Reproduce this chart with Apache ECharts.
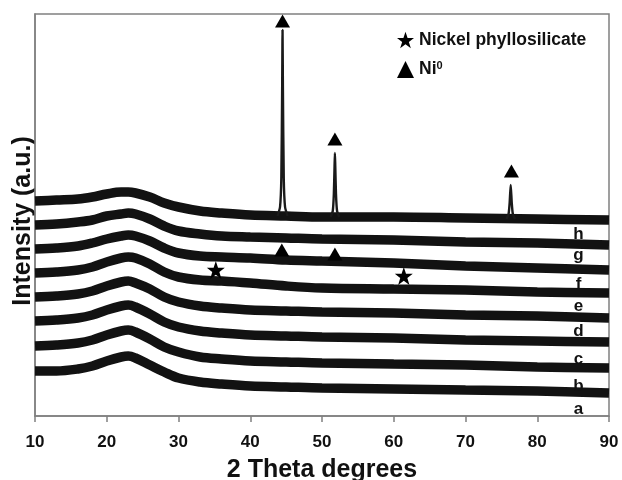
<!DOCTYPE html>
<html>
<head>
<meta charset="utf-8">
<script src="https://cdn.jsdelivr.net/npm/echarts@6/dist/echarts.min.js"></script>
<style>html,body{margin:0;padding:0;background:#fff;}#c{width:622px;height:480px;}</style>
</head>
<body>
<div id="c"></div>
<script>
// 2θ sample positions (degrees) for the baseline of every pattern
var angles = [10, 13, 16, 18, 20, 22, 23, 24, 26, 28, 30, 33, 36, 40, 45, 50, 60, 70, 80, 90];
// stacked intensities (a.u., offset)
var traceH = [215, 216, 217, 219, 222, 224, 224, 223, 219, 213, 209, 205, 203, 201, 200, 199, 199, 198, 197, 196];
var traceG = [191, 192, 194, 196, 200, 202, 203, 202, 197, 190, 185, 182, 180, 179, 178, 177, 176, 174, 173, 171];
var traceF = [167, 168, 170, 173, 177, 180, 181, 180, 175, 168, 163, 160, 159, 158, 156, 155, 153, 150, 148, 146];
var traceE = [143, 144, 146, 149, 154, 158, 159, 158, 152, 144, 139, 136, 135, 133, 130, 128, 127, 126, 124, 123];
var traceD = [119, 120, 122, 125, 130, 134, 135, 133, 127, 119, 114, 110, 108, 106, 105, 104, 103, 101, 100, 98];
var traceC = [95, 96, 98, 101, 106, 110, 111, 109, 102, 94, 89, 85, 83, 81, 80, 79, 78, 76, 75, 74];
var traceB = [70, 71, 73, 76, 81, 85, 86, 84, 77, 69, 64, 59, 57, 55, 54, 53, 52, 51, 49, 48];
var traceA = [45, 45, 47, 50, 55, 59, 60, 58, 51, 44, 38, 34, 32, 30, 29, 28, 27, 26, 25, 23];

// Ni0 reflections of pattern h: [angle, intensity]
var peak1 = [[43.8,200],[44.15,209],[44.33,238],[44.45,330],[44.5,386],[44.55,330],[44.67,238],[44.85,209],[45.2,200]];
var peak2 = [[51.2,199],[51.5,205],[51.65,222],[51.75,250],[51.8,263],[51.85,250],[51.95,222],[52.1,205],[52.4,199]];
var peak3 = [[75.7,197],[76.0,202],[76.15,213],[76.3,231],[76.45,213],[76.6,202],[76.9,197]];

// phase markers
var ni0Marks = [[44.5,395],[51.8,277],[76.4,245],[44.4,166],[51.8,162]];
var phylloMarks = [[35.2,146],[61.4,140]];

// pattern labels
var sampleNames = ['h','g','f','e','d','c','b','a'];
var labelAngle = 85.75;
var labelLevels = [182, 161, 132, 110, 85, 57, 30, 7];

var xTicks = [10, 20, 30, 40, 50, 60, 70, 80, 90];

var FONT = '"Liberation Sans", Arial, sans-serif';
var STAR = 'path://M50,2 L61.5,36 L97,36 L68.5,57.5 L79.5,92 L50,71 L20.5,92 L31.5,57.5 L3,36 L38.5,36 Z';

var traces = [traceH, traceG, traceF, traceE, traceD, traceC, traceB, traceA];
var series = [];
traces.forEach(function (t, i) {
  series.push({
    type: 'line', name: 'pattern ' + sampleNames[i],
    data: angles.map(function (a, k) { return [a, t[k]]; }),
    smooth: 0.35, showSymbol: false, silent: true,
    lineStyle: { color: '#121212', width: 9.5 }, z: 2
  });
});
[peak1, peak2, peak3].forEach(function (p) {
  series.push({
    type: 'line', data: p, smooth: 0.2, showSymbol: false, silent: true,
    lineStyle: { color: '#1a1a1a', width: 2.4 }, z: 3
  });
});
series.push({
  type: 'scatter', name: 'Nickel phyllosilicate', data: phylloMarks,
  symbol: STAR, symbolSize: 18, itemStyle: { color: '#000', opacity: 1 }, z: 5
});
series.push({
  type: 'scatter', name: 'Ni0', data: ni0Marks,
  symbol: 'triangle', symbolSize: [15, 13], itemStyle: { color: '#000', opacity: 1 }, z: 5
});
series.push({
  type: 'scatter', name: 'names', symbolSize: 0, z: 6, itemStyle: { opacity: 1 },
  data: sampleNames.map(function (n, i) { return [labelAngle, labelLevels[i], n]; }),
  label: { show: true, position: 'inside', formatter: function (p) { return p.data[2]; },
    color: '#111', fontSize: 17, fontWeight: 'bold', fontFamily: FONT }
});

var chart = echarts.init(document.getElementById('c'), null, { renderer: 'canvas' });
chart.setOption({
  backgroundColor: '#ffffff',
  animation: false,
  grid: { left: 35, top: 14, width: 574, height: 402, containLabel: false, outerBoundsMode: 'none',
    show: true, borderColor: '#808080', borderWidth: 1.5, backgroundColor: 'transparent' },
  legend: {
    orient: 'vertical', left: 392, top: 26, itemWidth: 17, itemHeight: 17, itemGap: 11,
    data: [
      { name: 'Nickel phyllosilicate', icon: STAR },
      { name: 'Ni0', icon: 'triangle' }
    ],
    formatter: function (n) { return n === 'Ni0' ? '{b|Ni}{s|0}' : '{b|' + n + '}'; },
    textStyle: {
      color: '#111', fontSize: 17.5, fontWeight: 'bold', fontFamily: FONT,
      rich: {
        b: { fontSize: 17.5, fontWeight: 'bold', fontFamily: FONT, color: '#111' },
        s: { fontSize: 11, fontWeight: 'bold', fontFamily: FONT, color: '#111', verticalAlign: 'top', padding: [0, 0, 8, 0] }
      }
    },
    itemStyle: { color: '#000', opacity: 1 }
  },
  xAxis: {
    type: 'value', min: 10, max: 90, interval: 10,
    name: '2 Theta degrees', nameLocation: 'middle', nameGap: 42,
    nameTextStyle: { fontSize: 25, fontWeight: 'bold', fontFamily: FONT, color: '#111' },
    axisLine: { show: true, onZero: false, lineStyle: { color: '#808080', width: 1.5 } },
    axisTick: { show: true, length: 6, inside: false, lineStyle: { color: '#808080', width: 1.5 } },
    axisLabel: { margin: 18, fontSize: 17, fontWeight: 'bold', fontFamily: FONT, color: '#111',
      formatter: function (v) { return xTicks.indexOf(v) >= 0 ? String(v) : ''; } },
    splitLine: { show: false }
  },
  yAxis: {
    type: 'value', min: 0, max: 402,
    name: 'Intensity (a.u.)', nameLocation: 'middle', nameGap: -1, nameRotate: 90,
    nameTextStyle: { fontSize: 25, fontWeight: 'bold', fontFamily: FONT, color: '#111', padding: [0, 12, 0, 0] },
    axisLine: { show: true, lineStyle: { color: '#808080', width: 1.5 } },
    axisTick: { show: false }, axisLabel: { show: false }, splitLine: { show: false }
  },
  series: series
});
</script>
</body>
</html>
